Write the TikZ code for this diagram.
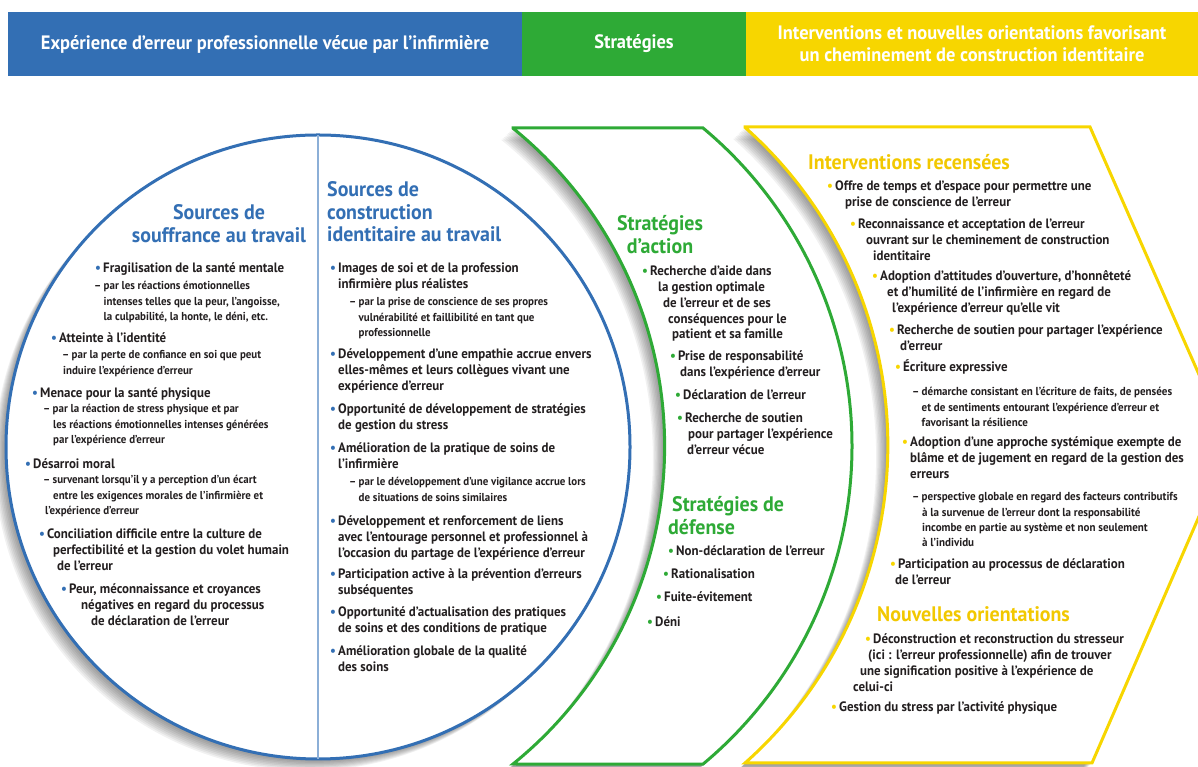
\documentclass[tikz,border=0pt]{standalone}
\usepackage{fontspec}
\setmainfont{PT Sans}[FakeStretch=0.95]
\usepackage{tikz}
\definecolor{uiblue}{RGB}{51,111,180}
\definecolor{uigreen}{RGB}{46,170,54}
\definecolor{uiyellow}{RGB}{247,214,0}
\definecolor{uigold}{RGB}{242,200,0}
\definecolor{uitext}{RGB}{35,31,32}
\definecolor{uiline}{RGB}{140,175,215}

\newcommand\bul[1]{\makebox[8pt][l]{\textcolor{#1}{\textbullet}}}
\newcommand\dd{\makebox[9.5pt][l]{–}}
\newcommand\lns[1]{\begin{tabular}[t]{@{}l@{}}#1\end{tabular}}
\newcommand\clns[1]{\begin{tabular}[t]{@{}c@{}}#1\end{tabular}}
\newcommand\circpath{(318,320) circle[radius=312]}
\newcommand\greenpath{(513,639) -- (703,639) arc[start angle=50.2,end angle=-50.2,radius=414] -- (513,3) arc[start angle=-51,end angle=51,radius=409] -- cycle}
\newcommand\yellowpath{(745,640) -- (1090,640) -- (1230,322) -- (1092,4) -- (745,4) arc[start angle=-48.4,end angle=48.4,radius=425] -- cycle}

\begin{document}
\begin{tikzpicture}[x=1pt,y=1pt,
    item node/.style={anchor=base west,inner sep=0pt,text=uitext,font=\bfseries\fontsize{13.6}{15.7}\selectfont},
    sub node/.style={item node,font=\bfseries\fontsize{11.5}{15.5}\selectfont},
    ysub node/.style={item node,font=\bfseries\fontsize{11.6}{15.3}\selectfont},
    head node/.style={inner sep=0pt,font=\bfseries\fontsize{21}{22.5}\selectfont},
    bar node/.style={text=white,align=center,inner sep=0pt,minimum height=64pt,font=\bfseries\fontsize{19.4}{22}\selectfont},
    rim/.style={line width=3pt}]
    \useasboundingbox (0,0) rectangle (1198,767);
    \clip (0,0) rectangle (1198,767);

    \node[bar node,fill=uiblue,minimum width=514pt]   (bexp)  at (265,723) {Expérience d’erreur professionnelle vécue par l’infirmière};
    \node[bar node,fill=uigreen,minimum width=224pt]  (bstr)  at (634,723) {Stratégies};
    \node[bar node,fill=uiyellow,minimum width=452pt] (binter) at (972,723) {Interventions et nouvelles orientations favorisant\\un cheminement de construction identitaire};

    \foreach \k in {1,...,9} {
      \fill[black,opacity=0.055,xshift=-1.3*\k pt,yshift=-1.3*\k pt] \circpath;
    }
    \filldraw[fill=white,draw=uiblue,rim] \circpath;
    \draw[uiline,line width=1.2pt] (318,8) -- (318,632);

    \foreach \k in {1,...,9} {
      \fill[black,opacity=0.055,xshift=-1.3*\k pt,yshift=-1.3*\k pt] \greenpath;
    }
    \filldraw[fill=white,draw=uigreen,rim,line join=miter] \greenpath;

    \foreach \k in {1,...,9} {
      \fill[black,opacity=0.055,xshift=-1.3*\k pt,yshift=-1.3*\k pt] \yellowpath;
    }
    \filldraw[fill=white,draw=uiyellow,rim,line join=miter] \yellowpath;

    \node[head node,text=uiblue,anchor=base] (hsouf) at (219,547) {\clns{Sources de\\souffrance au travail}};
    \node[item node] (a1) at (95,494) {\lns{\bul{uiblue}Fragilisation de la santé mentale}};
    \node[sub node] (a1s) at (94,477) {\lns{\dd par les réactions émotionnelles\\\hspace*{9.5pt}intenses telles que la peur, l’angoisse,\\\hspace*{9.5pt}la culpabilité, la honte, le déni, etc.}};
    \node[item node] (a2) at (51,424) {\lns{\bul{uiblue}Atteinte à l’identité}};
    \node[sub node] (a2s) at (62,408) {\lns{\dd par la perte de confiance en soi que peut\\\hspace*{1pt}induire l’expérience d’erreur}};
    \node[item node] (a3) at (32,369) {\lns{\bul{uiblue}Menace pour la santé physique}};
    \node[sub node] (a3s) at (43,354) {\lns{\dd par la réaction de stress physique et par\\\hspace*{10pt}les réactions émotionnelles intenses générées\\\hspace*{10pt}par l’expérience d’erreur}};
    \node[item node] (a4) at (25,298) {\lns{\bul{uiblue}Désarroi moral}};
    \node[sub node] (a4s) at (43,283) {\lns{\dd survenant lorsqu’il y a perception d’un écart\\\hspace*{10pt}entre les exigences morales de l’infirmière et\\\hspace*{2pt}l’expérience d’erreur}};
    \node[item node] (a5) at (39,228) {\lns{\bul{uiblue}Conciliation difficile entre la culture de\\\hspace*{14pt}perfectibilité et la gestion du volet humain\\\hspace*{18pt}de l’erreur}};
    \node[item node] (a6) at (61,173) {\lns{\bul{uiblue}Peur, méconnaissance et croyances\\\hspace*{20pt}négatives en regard du processus\\\hspace*{30pt}de déclaration de l’erreur}};

    \node[head node,text=uiblue,anchor=base west] (hcons) at (327,570) {\lns{Sources de\\construction\\identitaire au travail}};
    \node[item node] (b1) at (330,494) {\lns{\bul{uiblue}Images de soi et de la profession\\\hspace*{8pt}infirmière plus réalistes}};
    \node[sub node] (b1s) at (349,461) {\lns{\dd par la prise de conscience de ses propres\\\hspace*{9.5pt}vulnérabilité et faillibilité en tant que\\\hspace*{9.5pt}professionnelle}};
    \node[item node] (b2) at (330,408) {\lns{\bul{uiblue}Développement d’une empathie accrue envers\\\hspace*{8pt}elles-mêmes et leurs collègues vivant une\\\hspace*{8pt}expérience d’erreur}};
    \node[item node] (b3) at (330,353) {\lns{\bul{uiblue}Opportunité de développement de stratégies\\\hspace*{8pt}de gestion du stress}};
    \node[item node] (b4) at (330,314) {\lns{\bul{uiblue}Amélioration de la pratique de soins de\\\hspace*{8pt}l’infirmière}};
    \node[sub node] (b4s) at (349,281) {\lns{\dd par le développement d’une vigilance accrue lors\\\hspace*{9.5pt}de situations de soins similaires}};
    \node[item node] (b5) at (330,241) {\lns{\bul{uiblue}Développement et renforcement de liens\\\hspace*{8pt}avec l’entourage personnel et professionnel à\\\hspace*{8pt}l’occasion du partage de l’expérience d’erreur}};
    \node[item node] (b6) at (330,188) {\lns{\bul{uiblue}Participation active à la prévention d’erreurs\\\hspace*{8pt}subséquentes}};
    \node[item node] (b7) at (330,150) {\lns{\bul{uiblue}Opportunité d’actualisation des pratiques\\\hspace*{8pt}de soins et des conditions de pratique}};
    \node[item node] (b8) at (330,111) {\lns{\bul{uiblue}Amélioration globale de la qualité\\\hspace*{8pt}des soins}};

    \node[head node,text=uigreen,anchor=base] (hact) at (660,536) {\clns{Stratégies\\d’action}};
    \node[item node] (g1) at (642,491) {\lns{\bul{uigreen}Recherche d’aide dans\\\hspace*{16pt}la gestion optimale\\\hspace*{21pt}de l’erreur et de ses\\\hspace*{26pt}conséquences pour le\\\hspace*{30pt}patient et sa famille}};
    \node[item node] (g2) at (670,406) {\lns{\bul{uigreen}Prise de responsabilité\\\hspace*{10pt}dans l’expérience d’erreur}};
    \node[item node] (g3) at (675,367) {\lns{\bul{uigreen}Déclaration de l’erreur}};
    \node[item node] (g4) at (677,344) {\lns{\bul{uigreen}Recherche de soutien\\\hspace*{11pt}pour partager l’expérience\\\hspace*{10pt}d’erreur vécue}};
    \node[head node,text=uigreen,anchor=base west] (hdef) at (668,255) {\lns{\hspace*{4pt}Stratégies de\\défense}};
    \node[item node] (g5) at (668,211) {\lns{\bul{uigreen}Non-déclaration de l’erreur}};
    \node[item node] (g6) at (663,188) {\lns{\bul{uigreen}Rationalisation}};
    \node[item node] (g7) at (656,165) {\lns{\bul{uigreen}Fuite-évitement}};
    \node[item node] (g8) at (647,140) {\lns{\bul{uigreen}Déni}};

    \node[head node,text=uigold,anchor=base west] (hint) at (808,597) {Interventions recensées};
    \node[item node] (y1) at (827,576) {\lns{\bul{uiyellow}Offre de temps et d’espace pour permettre une\\\hspace*{18pt}prise de conscience de l’erreur}};
    \node[item node] (y2) at (850,538) {\lns{\bul{uiyellow}Reconnaissance et acceptation de l’erreur\\\hspace*{16pt}ouvrant sur le cheminement de construction\\\hspace*{23pt}identitaire}};
    \node[item node] (y3) at (872,486) {\lns{\bul{uiyellow}Adoption d’attitudes d’ouverture, d’honnêteté\\\hspace*{15pt}et d’humilité de l’infirmière en regard de\\\hspace*{20pt}l’expérience d’erreur qu’elle vit}};
    \node[item node] (y4) at (889,432) {\lns{\bul{uiyellow}Recherche de soutien pour partager l’expérience\\\hspace*{11pt}d’erreur}};
    \node[item node] (y5) at (895,395) {\lns{\bul{uiyellow}Écriture expressive}};
    \node[ysub node] (y5s) at (912,371) {\lns{\dd démarche consistant en l’écriture de faits, de pensées\\\hspace*{9.5pt}et de sentiments entourant l’expérience d’erreur et\\\hspace*{9.5pt}favorisant la résilience}};
    \node[item node] (y6) at (902,320) {\lns{\bul{uiyellow}Adoption d’une approche systémique exempte de\\\hspace*{8pt}blâme et de jugement en regard de la gestion des\\\hspace*{8pt}erreurs}};
    \node[ysub node] (y6s) at (912,266) {\lns{\dd perspective globale en regard des facteurs contributifs\\\hspace*{10pt}à la survenue de l’erreur dont la responsabilité\\\hspace*{10pt}incombe en partie au système et non seulement\\\hspace*{10pt}à l’individu}};
    \node[item node] (y7) at (890,198) {\lns{\bul{uiyellow}Participation au processus de déclaration\\\hspace*{5pt}de l’erreur}};
    \node[head node,text=uigold,anchor=base west] (hnouv) at (877,145) {Nouvelles orientations};
    \node[item node] (y8) at (853,123) {\lns{\hspace*{12pt}\bul{uiyellow}Déconstruction et reconstruction du stresseur\\\hspace*{15pt}(ici : l’erreur professionnelle) afin de trouver\\\hspace*{7pt}une signification positive à l’expérience de\\celui-ci}};
    \node[item node] (y9) at (831,55) {\lns{\bul{uiyellow}Gestion du stress par l’activité physique}};
\end{tikzpicture}
\end{document}
